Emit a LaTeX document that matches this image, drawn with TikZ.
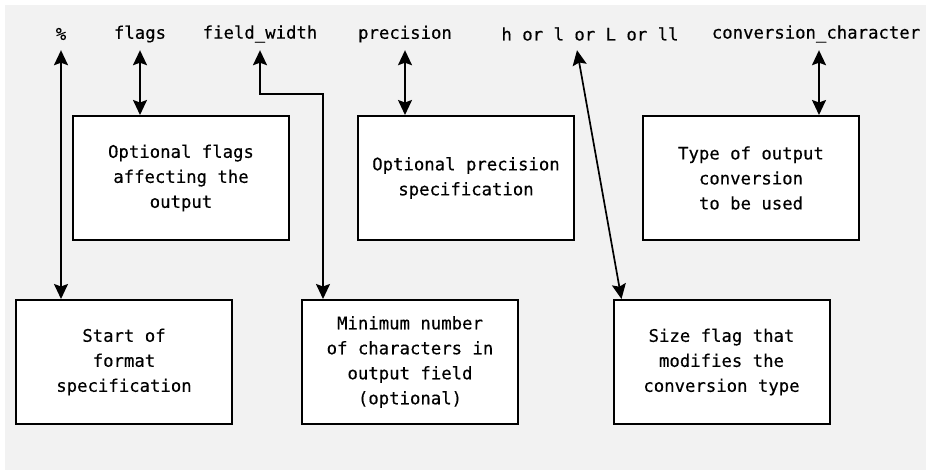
\documentclass[tikz,border=0pt]{standalone}
\usepackage{fontspec}
\setmonofont[FakeBold=0.35]{DejaVu Sans Mono}
\usetikzlibrary{arrows.meta}
\definecolor{bg}{HTML}{F2F2F2}
\begin{document}
\begin{tikzpicture}[x=1pt,y=-1pt,
  lbl/.style={font=\ttfamily\fontsize{17.3}{25}\selectfont, inner sep=0pt, minimum height=32pt, text=black},
  box/.style={draw=black, line width=2pt, fill=white, minimum width=216pt, minimum height=124pt,
    inner sep=0pt, align=center, font=\ttfamily\fontsize{17.3}{25}\selectfont},
  tip/.style={Stealth[length=15pt,width=14pt,inset=2.5pt]},
  con/.style={line width=1.7pt, {Stealth[length=15pt,width=14pt,inset=2.5pt]}-{Stealth[length=15pt,width=14pt,inset=2.5pt]}}
]
\useasboundingbox (0,0) rectangle (926,470);
\fill[bg] (5,5) rectangle (926,470);

% top labels
\node[lbl] (pct)   at (61,34)  {\%};
\node[lbl] (flags) at (140,34) {flags};
\node[lbl] (fw)    at (260,34) {field\_width};
\node[lbl] (prec)  at (405,34) {precision};
\node[lbl] (size)  at (590,34) {h or l or L or ll};
\node[lbl] (conv)  at (816,34) {conversion\_character};

% boxes
\node[box] (box1) at (181,178) {Optional flags\\affecting the\\output};
\node[box] (box2) at (466,178) {Optional precision\\specification};
\node[box] (box3) at (751,178) {Type of output\\conversion\\to be used};
\node[box] (box4) at (124,362) {Start of\\format\\specification};
\node[box] (box5) at (410,362) {Minimum number\\of characters in\\output field\\(optional)};
\node[box] (box6) at (721.5,362) {Size flag that\\modifies the\\conversion type};

% connectors
\draw[con] (pct.south) -- (pct.south |- box4.north);
\draw[con] (flags.south) -- (flags.south |- box1.north);
\draw[con] (prec.south) -- (prec.south |- box2.north);
\draw[con] ([xshift=3pt]conv.south) -- ([xshift=3pt]conv.south |- box3.north);
\coordinate (fwbend) at (323,94);
\draw[con] (fw.south) |- (fwbend) -- (fwbend |- box5.north);
\draw[con] ([xshift=-13pt]size.south) -- ([xshift=9pt]box6.north west);
\end{tikzpicture}
\end{document}
